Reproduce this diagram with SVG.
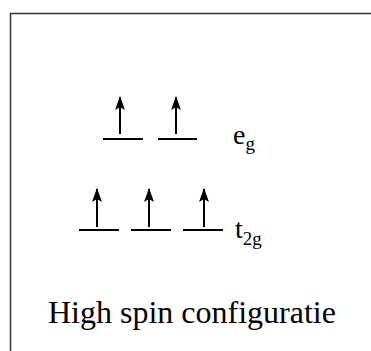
<svg xmlns="http://www.w3.org/2000/svg" width="371" height="351" viewBox="0 0 371 351">
<defs>
<style>
.lvl{stroke:#000;stroke-width:2;fill:none}
.spin{stroke:#000;stroke-width:2;fill:none}
.t{font-family:"Liberation Serif","Times New Roman",serif;fill:#000}
</style>
<marker id="ah" viewBox="0 0 14 10" refX="13" refY="5" markerWidth="14" markerHeight="10" markerUnits="userSpaceOnUse" orient="auto">
<path d="M14,5 L0,0 L3,5 L0,10 Z" fill="#000"/>
</marker>
</defs>
<rect x="10.5" y="13.5" width="370" height="350" fill="#fff" stroke="#333" stroke-width="1.5"/>
<g id="eg-level">
<line class="lvl" x1="103" y1="139" x2="143" y2="139"/>
<line class="lvl" x1="158" y1="139" x2="197" y2="139"/>
<text class="t" x="233" y="144" font-size="28">e<tspan font-size="19" dy="6">g</tspan></text>
</g>
<g id="t2g-level">
<line class="lvl" x1="79" y1="230" x2="119" y2="230"/>
<line class="lvl" x1="131" y1="230" x2="171" y2="230"/>
<line class="lvl" x1="183" y1="230" x2="223" y2="230"/>
<text class="t" x="235" y="238" font-size="28">t<tspan font-size="19" dy="7">2g</tspan></text>
</g>
<g id="connectors">
<line class="spin" x1="120" y1="134" x2="120" y2="97" marker-end="url(#ah)"/>
<line class="spin" x1="176" y1="134" x2="176" y2="97" marker-end="url(#ah)"/>
<line class="spin" x1="97" y1="227" x2="97" y2="189" marker-end="url(#ah)"/>
<line class="spin" x1="149" y1="227" x2="149" y2="189" marker-end="url(#ah)"/>
<line class="spin" x1="204" y1="227" x2="204" y2="189" marker-end="url(#ah)"/>
</g>
<g id="caption">
<text class="t" x="48" y="323" font-size="32">High spin configuratie</text>
</g>
</svg>
